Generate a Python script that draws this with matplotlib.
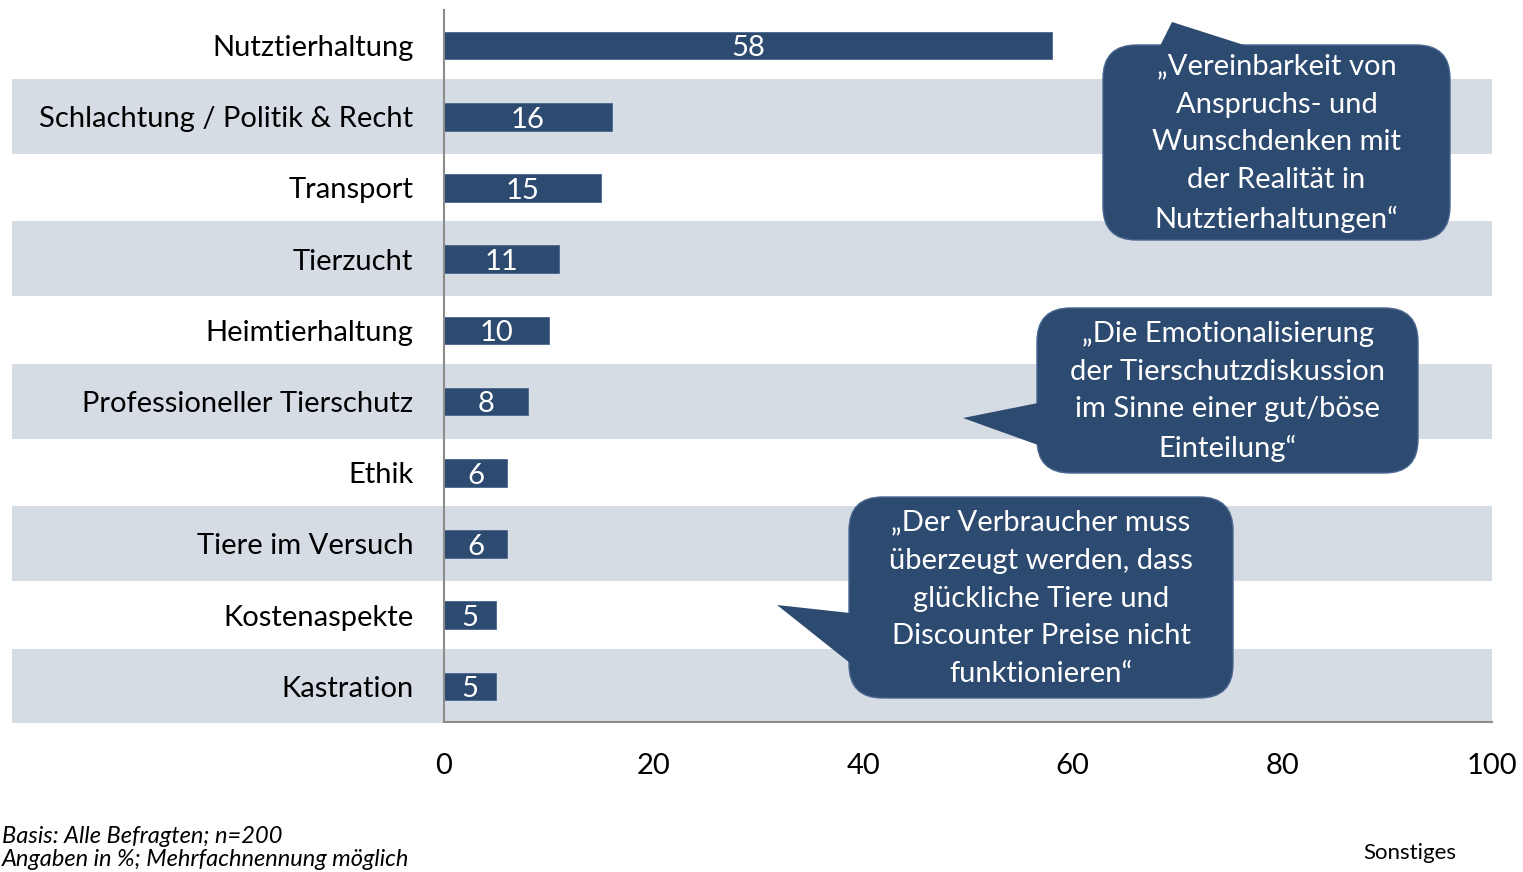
import matplotlib
matplotlib.use("Agg")
import matplotlib.pyplot as plt
from matplotlib.patches import FancyBboxPatch, Polygon, Rectangle
from matplotlib.transforms import blended_transform_factory

plt.rcParams['font.family'] = ['Lato', 'DejaVu Sans']

# survey answers (share of respondents, %)
categories = ["Nutztierhaltung", "Schlachtung / Politik & Recht", "Transport",
              "Tierzucht", "Heimtierhaltung", "Professioneller Tierschutz",
              "Ethik", "Tiere im Versuch", "Kostenaspekte", "Kastration"]
values = [58, 16, 15, 11, 10, 8, 6, 6, 5, 5]
xticks = [0, 20, 40, 60, 80, 100]

quotes = [
    "\u201eVereinbarkeit von\nAnspruchs- und\nWunschdenken mit\nder Realit\u00e4t in\nNutztierhaltungen\u201c",
    "\u201eDie Emotionalisierung\nder Tierschutzdiskussion\nim Sinne einer gut/b\u00f6se\nEinteilung\u201c",
    "\u201eDer Verbraucher muss\n\u00fcberzeugt werden, dass\ngl\u00fcckliche Tiere und\nDiscounter Preise nicht\nfunktionieren\u201c",
]

W, H = 1523, 872
BAR = "#2d4a70"
BAND = "#d5dce4"

fig = plt.figure(figsize=(W / 100, H / 100), dpi=100)
ax = fig.add_axes([444 / W, 1 - 722 / H, (1492 - 444) / W, (722 - 10) / H])

ypos = list(range(len(categories)))
ax.barh(ypos, values, height=0.39, color=BAR, edgecolor="#4a6690", linewidth=0.6, zorder=3)
ax.set_xlim(0, 100)
ax.set_ylim(len(categories) - 0.5, -0.5)

# shaded bands on every second row, reaching under the category labels
band_tr = blended_transform_factory(fig.transFigure, ax.transData)
for i in range(1, len(categories), 2):
    ax.add_patch(Rectangle((12 / W, i - 0.53), (1492 - 12) / W, 1.05, transform=band_tr,
                           facecolor=BAND, edgecolor="none", zorder=0, clip_on=False))

for y, v in zip(ypos, values):
    ax.text(v / 2, y + 0.04, str(v), ha="center", va="center", color="white",
            fontsize=21, zorder=4)

ax.set_yticks(ypos)
ax.set_yticklabels(categories, fontsize=21)
ax.set_xticks(xticks)
ax.set_xticklabels([str(t) for t in xticks], fontsize=21)
ax.tick_params(axis="both", length=0)
ax.tick_params(axis="y", pad=22)
ax.tick_params(axis="x", pad=22)
for s in ["top", "right"]:
    ax.spines[s].set_visible(False)
for s in ["left", "bottom"]:
    ax.spines[s].set_color("#8c8c8c")
    ax.spines[s].set_linewidth(1.5)
    ax.spines[s].set_zorder(5)
ax.set_facecolor("none")


def px(x, y):
    return (x / W, 1 - y / H)


def callout(x0, y0, x1, y1, tail, text):
    box = FancyBboxPatch(px(x0, y1), (x1 - x0) / W, (y1 - y0) / H,
                         boxstyle="round,pad=0,rounding_size=0.022",
                         mutation_aspect=W / H,
                         transform=fig.transFigure, facecolor=BAR,
                         edgecolor="#4a6690", linewidth=1, zorder=10)
    fig.add_artist(box)
    fig.add_artist(Polygon([px(*p) for p in tail], closed=True, transform=fig.transFigure,
                           facecolor=BAR, edgecolor="none", zorder=11))
    cx, cy = px((x0 + x1) / 2, (y0 + y1) / 2 + 1)
    fig.text(cx, cy, text, ha="center", va="center", color="white", fontsize=21,
             linespacing=1.57, zorder=12)


callout(1103, 45, 1450, 240, [(1160, 46), (1172, 22), (1247, 46)], quotes[0])
callout(1037, 308, 1418, 473, [(1038, 403), (963, 418), (1038, 445)], quotes[1])
callout(849, 497, 1233, 698, [(850, 613), (777, 605), (850, 663)], quotes[2])

fig.text(2 / W, 1 - 836 / H, "Basis: Alle Befragten; n=200", style="italic",
         fontsize=17, va="center", ha="left")
fig.text(2 / W, 1 - 859 / H, "Angaben in %; Mehrfachnennung m\u00f6glich", style="italic",
         fontsize=17, va="center", ha="left")
fig.text(1410 / W, 1 - 853 / H, "Sonstiges", fontsize=16, va="center", ha="center")

fig.savefig("out.png", dpi=100)
